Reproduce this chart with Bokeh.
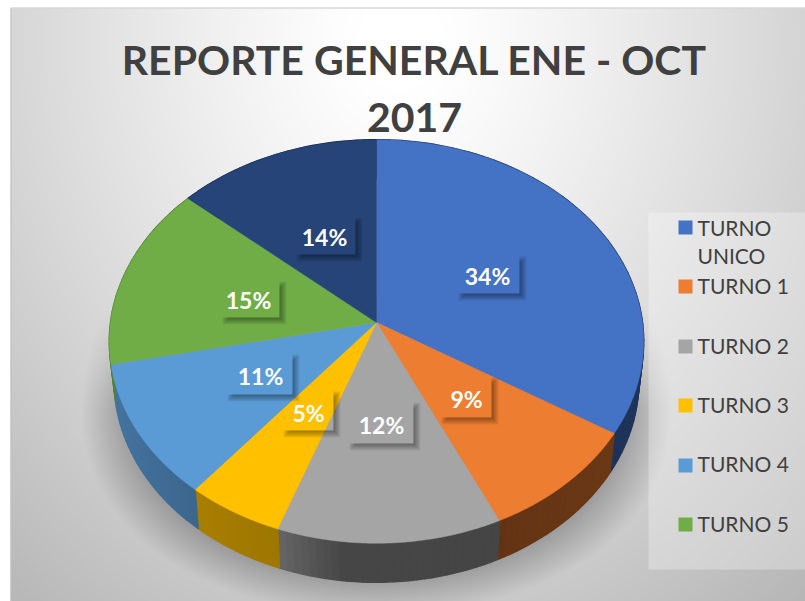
import numpy as np
from bokeh.plotting import figure
from bokeh.models import Range1d
from bokeh.core.properties import value
from bokeh.embed import file_html
from bokeh.resources import INLINE

# ---- data ----
title_lines = ["REPORTE GENERAL ENE - OCT", "2017"]
slice_names = ["TURNO UNICO", "TURNO 1", "TURNO 2", "TURNO 3", "TURNO 4", "TURNO 5", "(sin leyenda)"]
slice_values = [33.85, 9.2, 12.45, 5.4, 10.8, 14.75, 13.55]
slice_colors = ["#4472C4", "#ED7D31", "#A5A5A5", "#FFC000", "#5B9BD5", "#70AD47", "#264478"]

# ---- layout (pixels of the page) ----
W, H = 805, 601
HX, HY = 376, 322          # hub
RA, RB, K = 266, 200, 0.094  # projected pie
DEPTH = 39
FONT = "Lato"
# label box: left, top, right, bottom, text centre x, y
LABEL_BOX = [(459, 257, 519, 293, 487, 275), (442, 378, 491, 417, 466, 398),
             (350, 403, 413, 443, 381, 424), (284, 392, 333, 430, 308, 412),
             (228, 355, 292, 394, 260, 375), (223, 282, 279, 317, 248, 299),
             (297, 218, 355, 254, 324, 236)]
LEGEND_ROWS = [(220, [227, 255]), (279, [285]), (339, [345]), (398, [404]), (458, [463]), (517, [523])]

def Y(py):
    return 601 - np.asarray(py, dtype=float)

def proj(theta, r=1.0):
    sx, fy = np.sin(theta) * r, -np.cos(theta) * r
    d = 1 - K * fy
    return HX + RA * sx / d, HY + RB * fy / d

def shade(c, f):
    v = [int(c[i:i + 2], 16) for i in (1, 3, 5)]
    return "#%02x%02x%02x" % tuple(int(x * f) for x in v)

p = figure(width=W, height=H, x_range=Range1d(0, W), y_range=Range1d(0, H),
           output_backend="svg", toolbar_location=None, min_border=0,
           outline_line_color=None, background_fill_color="white", border_fill_color="white")
p.axis.visible = False
p.grid.visible = False

# ---- background with soft shadow ----
x0, y0, x1, y1 = 10, 8, 805, 601
xs, ys = np.meshgrid(np.arange(x0, x1) + .5, np.arange(y0, y1) + .5)
d = np.sqrt(((xs - 400) / 430) ** 2 + ((ys - 40) / 510) ** 2)
bg = 255 - 52 * np.clip(d - .1, 0, None) ** 1.15
rx = 272 + .3 * np.clip(ys - 300, 0, None)
e = np.sqrt(((xs - HX) / rx) ** 2 + ((ys - 340) / 275) ** 2)
t = np.clip((1 - e) / .2, 0, 1)
alpha = .36 * t * np.clip((ys - 290) / 120, 0, 1)
bg = bg * (1 - alpha)
# legend panel
mask = (xs >= 648) & (ys >= 212) & (ys <= 569)
bg = np.where(mask, bg + (255 - bg) * .28, bg)
img = np.zeros(bg.shape, dtype=np.uint32)
g = np.clip(bg, 0, 255).astype(np.uint32)
img[:] = (255 << 24) | (g << 16) | (g << 8) | g
p.image_rgba(image=[img[::-1]], x=x0, y=float(Y(y1)), dw=x1 - x0, dh=y1 - y0)
p.line([x0, x1], [Y(7.5), Y(7.5)], line_color="#c4c4c4", line_width=1)
p.line([x0 + .5, x0 + .5], [Y(8), Y(y1)], line_color="#c0c0c0", line_width=1)

# ---- pie ----
fracs = np.array(slice_values) / sum(slice_values)
edges = np.concatenate([[0], np.cumsum(fracs)]) * 2 * np.pi

# walls
wx, wy, wc = [], [], []
for i, c in enumerate(slice_colors):
    n = max(2, int((edges[i + 1] - edges[i]) / np.radians(1.5)))
    th = np.linspace(edges[i], edges[i + 1], n + 1)
    tx, ty = proj(th)
    bx, by = HX + (tx - HX) * .982, ty + DEPTH
    for j in range(n):
        wx.append([tx[j], tx[j + 1], bx[j + 1], bx[j]])
        wy.append(list(Y([ty[j], ty[j + 1], by[j + 1], by[j]])))
        f = np.interp(tx[j], [110, 200, 280, 345, 500, 640], [.75, .66, .62, .43, .42, .46])
        wc.append(shade(c, float(f)))
p.patches(wx, wy, fill_color=wc, line_color=wc, line_width=1.5)

# top faces
for i, c in enumerate(slice_colors):
    th = np.linspace(edges[i], edges[i + 1], 120)
    tx, ty = proj(th)
    p.patch(np.r_[HX, tx], Y(np.r_[HY, ty]), fill_color=c, line_color=c, line_width=.5)

# ---- data labels with shadow around transparent boxes ----
for i, (l, t_, r, b, cx, cy) in enumerate(LABEL_BOX):
    for e_ in (4, 3, 2, 1, 0, -1, -2):
        o = 3
        px = [r, r + o + e_, r + o + e_, l + o - e_, l + o - e_, r]
        py = [t_ + o - e_, t_ + o - e_, b + o + e_, b + o + e_, b, b]
        p.patch(px, Y(py), fill_color="black", fill_alpha=.06, line_color=None)
    p.text([cx], [Y(cy)], text=[f"{round(slice_values[i])}%"], text_color="white",
           text_font=value(FONT), text_font_style="bold", text_font_size="23px",
           text_align="center", text_baseline="middle")

# ---- title ----
for line, yy in zip(title_lines, (59, 117)):
    p.text([414], [Y(yy)], text=[line], text_color="#404040", text_font=value(FONT),
           text_font_style="bold", text_font_size="41px", text_align="center", text_baseline="middle")

# ---- legend ----
for name, c, (top, rows) in zip(slice_names, slice_colors, LEGEND_ROWS):
    p.quad(left=678, right=692, top=Y(top), bottom=Y(top + 14), fill_color=c, line_color=None)
    parts = name.split(" ")
    lines = [name] if len(rows) == 1 else parts
    for txt, yy in zip(lines, rows):
        p.text([697], [Y(yy)], text=[txt], text_color="#404040", text_font=value(FONT),
               text_font_size="21px", text_align="left", text_baseline="middle")

open("out.html", "w").write(file_html(p, INLINE))
